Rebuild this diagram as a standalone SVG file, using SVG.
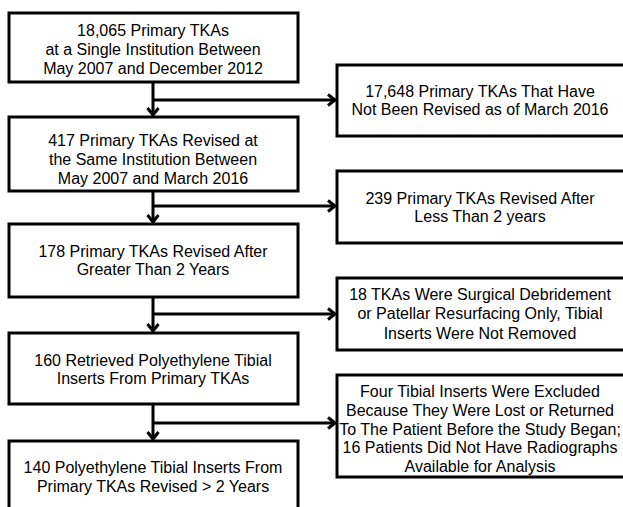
<svg xmlns="http://www.w3.org/2000/svg" width="623" height="507" viewBox="0 0 623 507">
<style>
.box{fill:#fff;stroke:#000;stroke-width:3}
.t{font-family:"Liberation Sans",Arial,sans-serif;font-size:16px;fill:#000;text-anchor:middle}
.c{fill:none;stroke:#000;stroke-width:3}
</style>
<defs>
<marker id="ah" markerUnits="userSpaceOnUse" markerWidth="14" markerHeight="14" viewBox="0 0 14 14" refX="11" refY="7" orient="auto">
<path d="M4,1.5 L11,7 L4,12.5" fill="none" stroke="#000" stroke-width="3"/>
</marker>
</defs>
<rect width="623" height="507" fill="#fff"/>
<g id="connectors">
<path class="c" d="M153,82 V115" marker-end="url(#ah)"/>
<path class="c" d="M153,100 H335" marker-end="url(#ah)"/>
<path class="c" d="M153,191 V222" marker-end="url(#ah)"/>
<path class="c" d="M153,206 H335" marker-end="url(#ah)"/>
<path class="c" d="M153,297 V331" marker-end="url(#ah)"/>
<path class="c" d="M153,314 H335" marker-end="url(#ah)"/>
<path class="c" d="M153,404 V439" marker-end="url(#ah)"/>
<path class="c" d="M153,423 H335" marker-end="url(#ah)"/>
</g>
<g id="n1"><rect class="box" x="9" y="13" width="289" height="69"/>
<text class="t"><tspan x="153" y="36">18,065 Primary TKAs</tspan><tspan x="153" y="55">at a Single Institution Between</tspan><tspan x="153" y="74">May 2007 and December 2012</tspan></text></g>
<g id="n2"><rect class="box" x="9" y="117" width="289" height="74"/>
<text class="t"><tspan x="153" y="146">417 Primary TKAs Revised at</tspan><tspan x="153" y="165">the Same Institution Between</tspan><tspan x="153" y="184">May 2007 and March 2016</tspan></text></g>
<g id="n3"><rect class="box" x="9" y="224" width="289" height="73"/>
<text class="t"><tspan x="153" y="257">178 Primary TKAs Revised After</tspan><tspan x="153" y="275">Greater Than 2 Years</tspan></text></g>
<g id="n4"><rect class="box" x="9" y="333" width="289" height="71"/>
<text class="t"><tspan x="153" y="366">160 Retrieved Polyethylene Tibial</tspan><tspan x="153" y="384">Inserts From Primary TKAs</tspan></text></g>
<g id="n5"><rect class="box" x="9" y="441" width="289" height="80"/>
<text class="t"><tspan x="153" y="473">140 Polyethylene Tibial Inserts From</tspan><tspan x="153" y="492">Primary TKAs Revised &gt; 2 Years</tspan></text></g>
<g id="r1"><rect class="box" x="337" y="65" width="300" height="71"/>
<text class="t"><tspan x="480" y="97">17,648 Primary TKAs That Have</tspan><tspan x="480" y="115">Not Been Revised as of March 2016</tspan></text></g>
<g id="r2"><rect class="box" x="337" y="171" width="300" height="72"/>
<text class="t"><tspan x="480" y="204">239 Primary TKAs Revised After</tspan><tspan x="480" y="222">Less Than 2 years</tspan></text></g>
<g id="r3"><rect class="box" x="337" y="278" width="300" height="72"/>
<text class="t"><tspan x="480" y="300">18 TKAs Were Surgical Debridement</tspan><tspan x="480" y="319">or Patellar Resurfacing Only, Tibial</tspan><tspan x="480" y="339">Inserts Were Not Removed</tspan></text></g>
<g id="r4"><rect class="box" x="337" y="375" width="300" height="102"/>
<text class="t"><tspan x="480" y="397">Four Tibial Inserts Were Excluded</tspan><tspan x="480" y="416">Because They Were Lost or Returned</tspan><tspan x="480" y="434.5">To The Patient Before the Study Began;</tspan><tspan x="480" y="453">16 Patients Did Not Have Radiographs</tspan><tspan x="480" y="472">Available for Analysis</tspan></text></g>
</svg>
